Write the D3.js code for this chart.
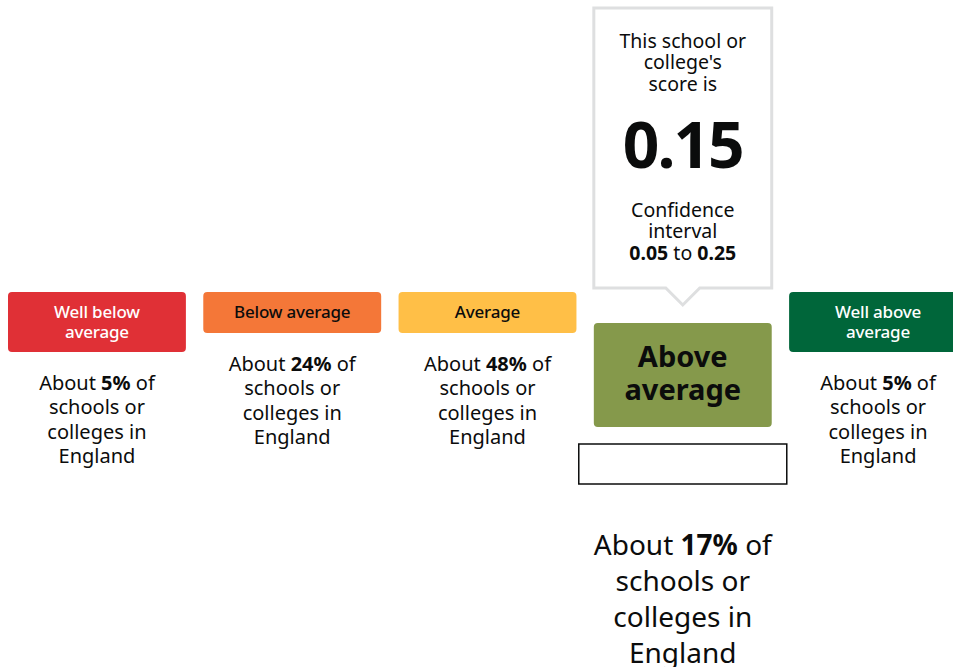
<!DOCTYPE html>
<html>
<head>
<meta charset="utf-8">
<script src="https://cdn.jsdelivr.net/npm/d3@7"></script>
<style>
  body { margin: 0; background: #fff; }
  text { font-family: "Noto Sans", Lato, sans-serif; fill: #0b0c0c; }
</style>
</head>
<body>
<div class="mainDiv"></div>
<script>
// categories and values
const bands = ["Well below average", "Below average", "Average", "Above average", "Well above average"];
const bandLines = [["Well below", "average"], ["Below average"], ["Average"], ["Above", "average"], ["Well above", "average"]];
const shares = [5, 24, 48, 17, 5];
const colors = ["#e03036", "#f47738", "#ffbf47", "#85994b", "#00663a"];
const labelColors = ["#fff", "#0b0c0c", "#0b0c0c", "#0b0c0c", "#fff"];
const selected = 3;
const score = 0.15;
const ciLow = 0.05, ciHigh = 0.25;

const W = 953, H = 667;
const svg = d3.select('.mainDiv').append('svg')
  .attr('width', W).attr('height', H);

const x = d3.scaleBand()
  .domain(bands)
  .range([8, 967])
  .paddingInner(0.089)
  .paddingOuter(0);

const bw = x.bandwidth();
const fmt = d3.format('.2f');

bands.forEach((b, i) => {
  const cx = x(b) + bw / 2;
  const isSel = i === selected;
  const lines = bandLines[i];
  let top, h;
  if (isSel) { top = 323; h = 104; }
  else { top = 292; h = lines.length > 1 ? 60 : 41; }

  svg.append('rect')
    .attr('x', x(b)).attr('y', top)
    .attr('width', bw).attr('height', h)
    .attr('rx', 4)
    .attr('fill', colors[i]);

  // label inside the box
  const fs = isSel ? 29 : 17;
  const lh = isSel ? 33 : 20;
  const y0 = top + h / 2 - (lines.length - 1) * lh / 2 - (isSel ? 3 : 1);
  lines.forEach((l, j) => {
    svg.append('text')
      .attr('x', cx).attr('y', y0 + j * lh)
      .attr('text-anchor', 'middle')
      .attr('dominant-baseline', 'central')
      .attr('font-size', fs)
      .attr('font-weight', isSel ? 700 : 500)
      .style('fill', labelColors[i])
      .style('letter-spacing', isSel ? '0px' : '-0.2px')
      .text(l);
  });

  // description under the box
  const dfs = isSel ? 28 : 20;
  const dlh = isSel ? 36 : 24.5;
  const dy0 = isSel ? 544 : top + h + 30;
  const desc = [null, "schools or", "colleges in", "England"];
  desc.forEach((l, j) => {
    const t = svg.append('text')
      .attr('x', cx).attr('y', dy0 + j * dlh)
      .attr('text-anchor', 'middle')
      .attr('dominant-baseline', 'central')
      .attr('font-size', dfs);
    if (l === null) {
      t.append('tspan').text('About ');
      t.append('tspan').attr('font-weight', 700).text(shares[i] + '%');
      t.append('tspan').text(' of');
    } else {
      t.text(l);
    }
  });

  if (isSel) {
    // empty outlined box
    svg.append('rect')
      .attr('x', cx - 104).attr('y', 444)
      .attr('width', 208).attr('height', 40)
      .attr('fill', '#fff')
      .attr('stroke', '#0b0c0c')
      .attr('stroke-width', 1.5);

    // tooltip with arrow
    const tl = x(b), tr = x(b) + bw, tt = 8, tb = 288;
    const path = d3.path();
    path.moveTo(tl, tt);
    path.lineTo(tr, tt);
    path.lineTo(tr, tb);
    path.lineTo(cx + 17, tb);
    path.lineTo(cx, tb + 17);
    path.lineTo(cx - 17, tb);
    path.lineTo(tl, tb);
    path.closePath();
    svg.append('path')
      .attr('d', path.toString())
      .attr('fill', '#fff')
      .attr('stroke', '#dedfe0')
      .attr('stroke-width', 3);

    ["This school or", "college's", "score is"].forEach((l, j) => {
      svg.append('text')
        .attr('x', cx).attr('y', 40 + j * 21.5)
        .attr('text-anchor', 'middle')
        .attr('dominant-baseline', 'central')
        .attr('font-size', 19.5)
        .text(l);
    });
    svg.append('text')
      .attr('x', cx).attr('y', 143)
      .attr('text-anchor', 'middle')
      .attr('dominant-baseline', 'central')
      .attr('font-size', 64)
      .attr('font-weight', 700)
      .style('letter-spacing', '-2px')
      .text(fmt(score));
    ["Confidence", "interval"].forEach((l, j) => {
      svg.append('text')
        .attr('x', cx).attr('y', 209 + j * 21.5)
        .attr('text-anchor', 'middle')
        .attr('dominant-baseline', 'central')
        .attr('font-size', 19.5)
        .text(l);
    });
    const ci = svg.append('text')
      .attr('x', cx).attr('y', 252)
      .attr('text-anchor', 'middle')
      .attr('dominant-baseline', 'central')
      .attr('font-size', 19.5);
    ci.append('tspan').attr('font-weight', 700).text(fmt(ciLow));
    ci.append('tspan').text(' to ');
    ci.append('tspan').attr('font-weight', 700).text(fmt(ciHigh));
  }
});
</script>
</body>
</html>
